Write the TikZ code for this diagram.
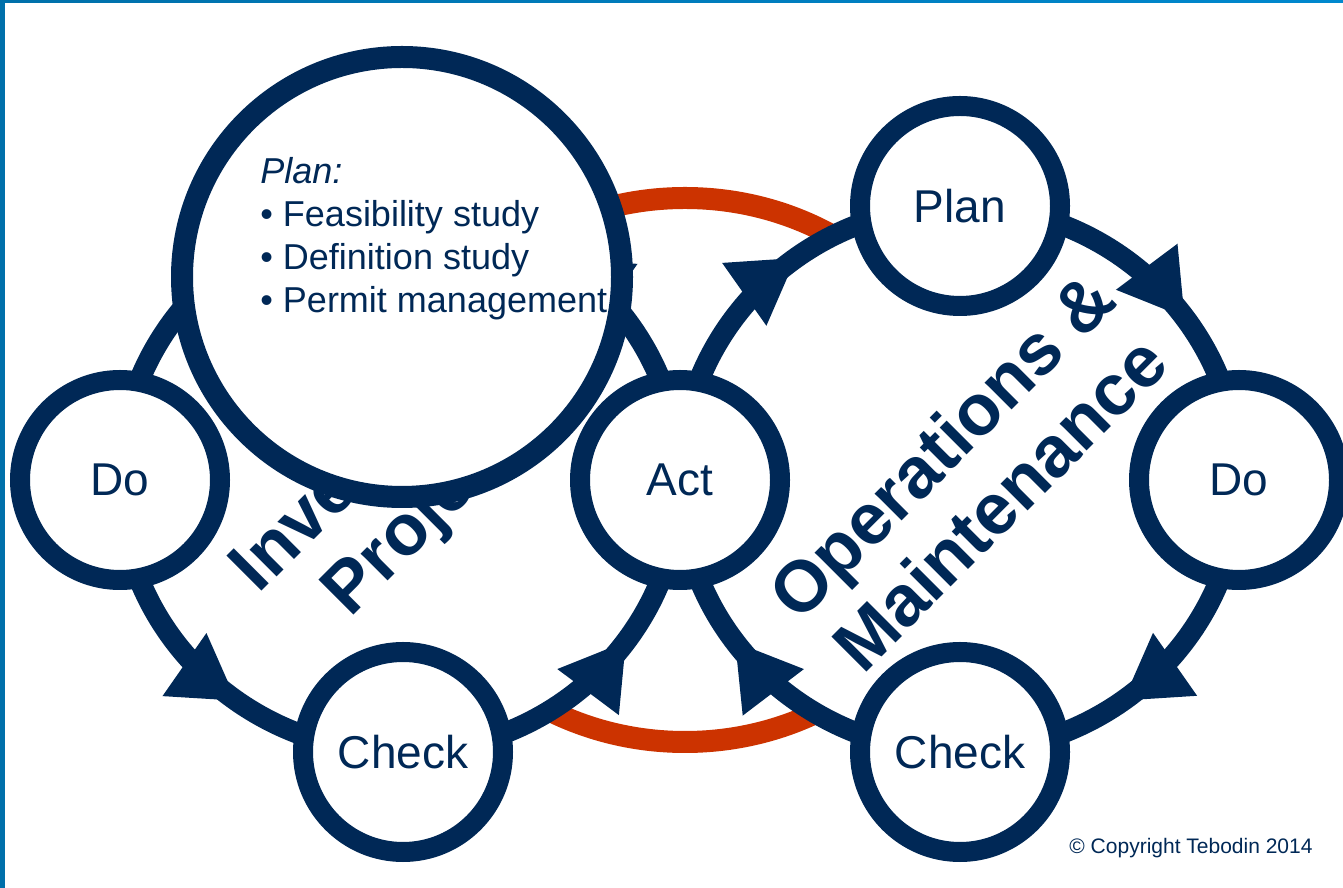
\documentclass[tikz,border=0pt]{standalone}
\usepackage{fontspec}
\setmainfont{Liberation Sans}
\usetikzlibrary{positioning,arrows.meta,decorations.markings,backgrounds}
\definecolor{navy}{RGB}{0,40,86}
\definecolor{rust}{RGB}{204,51,0}
\definecolor{frameblue}{RGB}{0,112,170}
\definecolor{frameblue2}{RGB}{0,136,206}

\tikzset{
  stage/.style={circle,draw=navy,line width=10pt,fill=white,minimum size=100pt,
    inner sep=0pt,text=navy,font=\fontsize{23}{27}\selectfont},
  cyclearc/.style={draw=navy,line width=10.5pt,postaction={decorate,
    decoration={markings,mark=at position 0.6 with
    {\arrow{Triangle[length=32pt,width=36pt]}}}}},
  phase/.style={rotate=45,align=center,text=navy,
    font=\bfseries\fontsize{36}{41}\selectfont}
}

\begin{document}
\begin{tikzpicture}[x=0.5pt,y=0.5pt]
		\useasboundingbox (0,0) rectangle (1343,888);

		%cycle centres
		\coordinate (invCentre) at (400,408);
		\coordinate (opsCentre) at (960,408);
		\coordinate (topL) at (400,680);

		%big plan circle
		\node[circle,draw=navy,line width=11pt,fill=white,minimum size=220pt] (planL) at (402,611) {};
		\node[anchor=north west,align=left,inner sep=0pt,text=navy,
			font=\fontsize{18}{21.5}\selectfont] (planText) at (260,731)
			{\textit{Plan:}\\• Feasibility study\\• Definition study\\• Permit management};

		%left cycle nodes
		\node[stage] (doL) at (120,408) {Do};
		\node[stage] (checkL) at (403,136) {Check};
		\node[stage] (act) at (680,408) {Act};

		%right cycle nodes
		\node[stage] (planR) at (960,682) {Plan};
		\node[stage] (doR) at (1239,408) {Do};
		\node[stage] (checkR) at (960,136) {Check};

		\node[phase] (opsLabel) at (970,414) {Operations \&\\Maintenance};

		\node[text=navy,font=\fontsize{10.5}{12}\selectfont] (copy) at (1191,40)
			{© Copyright Tebodin 2014};

		\begin{pgfonlayer}{background}
		%red link
		\draw[rust,line width=11pt] ([shift={(5,10)}]act.center) ellipse [x radius=290,y radius=272];

		%cycle fills
		\fill[white] (invCentre) ellipse [x radius=280,y radius=272];
		\fill[white] (opsCentre) ellipse [x radius=280,y radius=272];

		%left cycle arcs
		\draw[cyclearc] (doL.center) arc [start angle=180,end angle=270,x radius=280,y radius=272];
		\draw[cyclearc] (checkL.center) arc [start angle=270,end angle=360,x radius=277,y radius=272];
		\draw[cyclearc] (act.center) arc [start angle=0,end angle=90,x radius=280,y radius=272];
		\draw[cyclearc] (topL) arc [start angle=90,end angle=180,x radius=280,y radius=272];

		%right cycle arcs
		\draw[cyclearc] (act.center) arc [start angle=180,end angle=90,x radius=280,y radius=274];
		\draw[cyclearc] (planR.center) arc [start angle=90,end angle=0,x radius=279,y radius=274];
		\draw[cyclearc] (doR.center) arc [start angle=360,end angle=270,x radius=279,y radius=272];
		\draw[cyclearc] (checkR.center) arc [start angle=270,end angle=180,x radius=280,y radius=272];

		\node[phase] (invLabel) at (410,411) {Investment\\Projects};
		\end{pgfonlayer}

		%frame
		\shade[left color=frameblue,right color=frameblue2] (0,885) rectangle (1343,888);
		\fill[frameblue] (0,0) rectangle (5,888);
\end{tikzpicture}
\end{document}
